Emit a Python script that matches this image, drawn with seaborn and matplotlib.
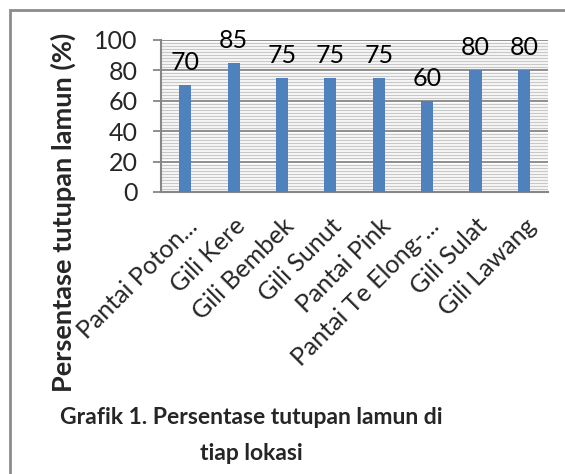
import matplotlib.pyplot as plt
import pandas as pd
import seaborn as sns
from matplotlib.patches import Rectangle
from matplotlib.ticker import MultipleLocator

LOKASI = [
    "Pantai Poton...",
    "Gili Kere",
    "Gili Bembek",
    "Gili Sunut",
    "Pantai Pink",
    "Pantai Te Elong-...",
    "Gili Sulat",
    "Gili Lawang",
]
TUTUPAN = [70, 85, 75, 75, 75, 60, 80, 80]

df = pd.DataFrame({"lokasi": LOKASI, "tutupan": TUTUPAN})

sns.set_theme(style="white")
plt.rcParams["font.family"] = ["Lato", "DejaVu Sans"]

fig = plt.figure(figsize=(5.65, 4.74), dpi=100)
ax = fig.add_axes([0.285, 0.595, 0.685, 0.321])

sns.barplot(data=df, x="lokasi", y="tutupan", color="#4F81BD", saturation=1,
            width=0.25, linewidth=0, ax=ax, zorder=3)

ax.set_ylim(0, 100)
ax.set_xlim(-0.5, len(LOKASI) - 0.5)
ax.yaxis.set_major_locator(MultipleLocator(20))
ax.yaxis.set_minor_locator(MultipleLocator(2))
ax.grid(which="minor", axis="y", color="#c8c8c8", linewidth=1.0, zorder=0)
ax.grid(which="major", axis="y", color="#868686", linewidth=1.3, zorder=1)
ax.set_axisbelow(True)

for s in ["top", "right"]:
    ax.spines[s].set_visible(False)
for s in ["left", "bottom"]:
    ax.spines[s].set_color("#868686")
    ax.spines[s].set_linewidth(1.5)

ax.tick_params(axis="y", which="major", left=True, length=6, width=1.3,
               color="#868686", labelsize=18, pad=11)
ax.tick_params(axis="y", which="minor", left=False)
ax.tick_params(axis="x", bottom=False, labelsize=18, pad=10)
plt.setp(ax.get_xticklabels(), rotation=45, ha="right", rotation_mode="anchor")

ax.set_xlabel("")
ax.set_ylabel("")

for i, v in enumerate(TUTUPAN):
    ax.annotate(str(v), (i, v), xytext=(0, 8), textcoords="offset points",
                ha="center", va="bottom", fontsize=18, color="black")

fig.text(63 / 565, 1 - 212 / 474, "Persentase tutupan lamun (%)", rotation=90,
         ha="center", va="center", fontsize=19.5, fontweight="bold")
fig.text(251 / 565, 1 - 418 / 474, "Grafik 1. Persentase tutupan lamun di",
         ha="center", va="center", fontsize=16.5, fontweight="bold")
fig.text(251 / 565, 1 - 454 / 474, "tiap lokasi",
         ha="center", va="center", fontsize=16.5, fontweight="bold")

fig.patches.append(Rectangle((10 / 565, -0.1), 1.2, 1 - 10 / 474 + 0.1,
                             transform=fig.transFigure, fill=False,
                             edgecolor="#8c8c8c", linewidth=2))

fig.savefig("out.png", dpi=100)
